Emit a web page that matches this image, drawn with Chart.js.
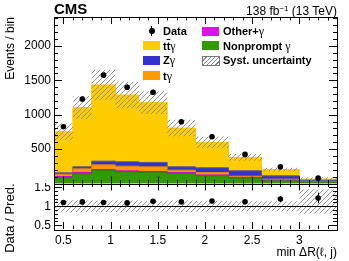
<!DOCTYPE html>
<html lang="en">
<head>
<meta charset="UTF-8">
<title>min ΔR(ℓ, j)</title>
<script src="https://cdn.jsdelivr.net/npm/chart.js"></script>
<style>
    html, body { margin: 0; padding: 0; background: #fff; }
    #wrap { position: relative; width: 349px; height: 261px; overflow: hidden;
            font-family: "Liberation Sans", Arial, sans-serif; color: #000; }
    #mainBox { position: absolute; left: 0; top: 0; width: 349px; height: 184px; }
    #ratioBox { position: absolute; left: 0; top: 183px; width: 349px; height: 78px; }
    .txt { position: absolute; white-space: nowrap; }
    .cms { left: 54px; top: 1px; font-weight: bold; font-size: 15px; line-height: 15px; }
    .lumi { right: 12px; top: 3px; font-size: 12px; line-height: 12px; }
    .lumi sup { font-size: 8px; vertical-align: 4px; }
    .leg { position: absolute; font-weight: bold; font-size: 11px; line-height: 12px; white-space: nowrap; }
    .box { position: absolute; width: 17px; height: 9px; }
    .g { font-family: "Liberation Serif", serif; font-weight: normal; font-size: 12px; }
    .ob { text-decoration: overline; }
</style>
</head>
<body>
<div id="wrap">
    <div id="mainBox"><canvas id="mainChart"></canvas></div>
    <div id="ratioBox"><canvas id="ratioChart"></canvas></div>

    <div class="txt cms">CMS</div>
    <div class="txt lumi">138 fb<sup>−1</sup> (13 TeV)</div>

    <!-- legend, column 1 -->
    <div style="position:absolute;left:151px;top:26px;width:1px;height:10px;background:#000"></div>
    <div style="position:absolute;left:148.5px;top:28px;width:6px;height:6px;border-radius:50%;background:#000"></div>
    <div class="leg" style="left:163px;top:25px">Data</div>
    <div class="box" style="left:143px;top:41px;background:#ffcc00"></div>
    <div class="leg" style="left:163px;top:39.5px">t<span class="ob">t</span><span class="g">γ</span></div>
    <div class="box" style="left:143px;top:55.5px;background:#3333cc"></div>
    <div class="leg" style="left:163px;top:54px">Z<span class="g">γ</span></div>
    <div class="box" style="left:143px;top:71px;background:#ff9900"></div>
    <div class="leg" style="left:163px;top:69.5px">t<span class="g">γ</span></div>
    <!-- legend, column 2 -->
    <div class="box" style="left:202px;top:26.5px;background:#dd11ee"></div>
    <div class="leg" style="left:223px;top:25px">Other+<span class="g">γ</span></div>
    <div class="box" style="left:202px;top:41px;background:#339900"></div>
    <div class="leg" style="left:223px;top:39.5px">Nonprompt <span class="g">γ</span></div>
    <div class="box" style="left:202px;top:55.5px;width:16px;height:8px;border:1px solid #777;
         background:repeating-linear-gradient(135deg,#fff 0 2px,#888 2px 3px)"></div>
    <div class="leg" style="left:223px;top:54px">Syst. uncertainty</div>
</div>

<script>
    // bin edges of min dR(l, j)
    const edges = [0.4, 0.6, 0.8, 1.05, 1.3, 1.6, 1.9, 2.25, 2.6, 3.0, 3.4];
    const binCenters = [0.5, 0.7, 0.925, 1.175, 1.45, 1.75, 2.075, 2.425, 2.8, 3.2];

    // stacked predictions, events / bin
    const nonprompt = [82, 140, 190, 169, 160, 146, 111, 73, 38, 16];
    const otherG    = [20, 20, 14, 15, 15, 14, 14, 14, 10, 4];
    const tGamma    = [34, 53, 67, 68, 67, 34, 35, 19, 15, 6];
    const zGamma    = [19, 29, 54, 63, 64, 48, 68, 78, 48, 22];
    const ttGamma   = [597, 860, 1108, 972, 869, 564, 370, 195, 92, 16];

    // observed data
    const dataVals = [825, 1229, 1575, 1400, 1327, 898, 680, 423, 242, 78];
    const dataErr  = [29, 35, 40, 37, 36, 30, 26, 21, 16, 9];

    // relative syst. uncertainty (up / down)
    const systUp   = [0.16, 0.15, 0.15, 0.15, 0.14, 0.15, 0.14, 0.13, 0.13, 0.44];
    const systDown = [0.16, 0.15, 0.15, 0.15, 0.14, 0.15, 0.14, 0.13, 0.13, 0.19];

    // axis ticks
    const xTicks = [0.5, 1, 1.5, 2, 2.5, 3];
    const mainYTicks = [500, 1000, 1500, 2000];
    const ratioYTicks = [0.5, 1, 1.5];

    const FONT = '"Liberation Sans", Arial, sans-serif';

    const add = (a, b) => a.map((v, i) => v + b[i]);
    const c1 = nonprompt;
    const c2 = add(c1, otherG);
    const c3 = add(c2, tGamma);
    const c4 = add(c3, zGamma);
    const total = add(c4, ttGamma);

    // histogram as stepped line: value i holds from edges[i] to edges[i+1]
    function steps(vals) {
        const pts = vals.map((v, i) => ({ x: edges[i], y: v }));
        pts.push({ x: edges[edges.length - 1], y: vals[vals.length - 1] });
        return pts;
    }

    function hatch(color) {
        const c = document.createElement('canvas');
        c.width = 5; c.height = 5;
        const g = c.getContext('2d');
        g.strokeStyle = color;
        g.lineWidth = 0.9;
        g.beginPath();
        g.moveTo(0, 5); g.lineTo(5, 0);
        g.moveTo(-1, 1); g.lineTo(1, -1);
        g.moveTo(4, 6); g.lineTo(6, 4);
        g.stroke();
        return g.createPattern(c, 'repeat');
    }

    function minors(lo, hi, step) {
        const out = [];
        for (let v = lo; v <= hi + 1e-9; v += step) out.push(+v.toFixed(4));
        return out;
    }

    // frame with inward ROOT-style ticks
    const framePlugin = {
        id: 'frame',
        afterDatasetsDraw(chart, args, o) {
            const { ctx, chartArea: a, scales } = chart;
            ctx.save();
            ctx.strokeStyle = '#000';
            ctx.lineWidth = 1;
            ctx.beginPath();
            const tickX = (vals, len) => vals.forEach(v => {
                const px = Math.round(scales.x.getPixelForValue(v)) + 0.5;
                if (px <= a.left + 1 || px >= a.right - 1) return;
                ctx.moveTo(px, a.bottom); ctx.lineTo(px, a.bottom - len);
                ctx.moveTo(px, a.top); ctx.lineTo(px, a.top + len);
            });
            const tickY = (vals, len) => vals.forEach(v => {
                const py = Math.round(scales.y.getPixelForValue(v)) + 0.5;
                if (py <= a.top + 1 || py >= a.bottom - 1) return;
                ctx.moveTo(a.left, py); ctx.lineTo(a.left + len, py);
                ctx.moveTo(a.right, py); ctx.lineTo(a.right - len, py);
            });
            tickX(o.xMinor, o.xLen / 2);
            tickX(o.xMajor, o.xLen);
            tickY(o.yMinor, o.yLen / 2);
            tickY(o.yMajor, o.yLen);
            ctx.stroke();
            ctx.strokeRect(Math.round(a.left) + 0.5, Math.round(a.top) + 0.5,
                Math.round(a.right - a.left), Math.round(a.bottom - a.top));
            if (o.unitLine) {
                const py = Math.round(scales.y.getPixelForValue(1)) + 0.5;
                ctx.beginPath();
                ctx.moveTo(a.left, py); ctx.lineTo(a.right, py);
                ctx.stroke();
            }
            ctx.restore();
        }
    };

    // vertical error bars on the data points
    const errorPlugin = {
        id: 'errbars',
        afterDatasetsDraw(chart) {
            const { ctx, scales } = chart;
            chart.data.datasets.forEach(ds => {
                if (!ds.errY) return;
                ctx.save();
                ctx.strokeStyle = '#000';
                ctx.lineWidth = 1;
                ctx.beginPath();
                ds.data.forEach((p, i) => {
                    const px = Math.round(scales.x.getPixelForValue(p.x)) + 0.5;
                    ctx.moveTo(px, scales.y.getPixelForValue(p.y - ds.errY[i]));
                    ctx.lineTo(px, scales.y.getPixelForValue(p.y + ds.errY[i]));
                });
                ctx.stroke();
                ctx.restore();
            });
        }
    };

    function layer(vals, fill, line) {
        return {
            data: steps(vals), stepped: 'before', fill: 'origin',
            backgroundColor: fill, borderColor: line, borderWidth: 1,
            pointRadius: 0
        };
    }

    const pattern = hatch('#8a8a8a');

    const yAxisBase = (ticks, title, titleSize) => ({
        grid: { display: false, drawTicks: false },
        border: { display: false },
        afterFit(s) { s.width = 54; s.paddingTop = 0; s.paddingBottom = 0; },
        afterBuildTicks(s) { s.ticks = ticks.map(v => ({ value: v })); },
        ticks: { padding: 3, color: '#000', font: { family: FONT, size: 12 }, callback: v => String(v) },
        title: { display: true, text: title, align: 'end', color: '#000',
                 font: { family: FONT, size: titleSize }, padding: { top: 3, bottom: 0 } }
    });

    new Chart(document.getElementById('mainChart'), {
        type: 'line',
        data: {
            datasets: [
                { type: 'scatter', data: dataVals.map((v, i) => ({ x: binCenters[i], y: v })),
                  errY: dataErr, pointRadius: 2.8, pointBackgroundColor: '#000', pointBorderWidth: 0 },
                { data: steps(total.map((v, i) => v * (1 + systUp[i]))), stepped: 'before', fill: '+1',
                  backgroundColor: pattern, borderWidth: 0, pointRadius: 0 },
                { data: steps(total.map((v, i) => v * (1 - systDown[i]))), stepped: 'before', fill: false,
                  borderWidth: 0, pointRadius: 0 },
                layer(c1, '#339900', '#2b8200'),
                layer(c2, '#dd11ee', '#c010d0'),
                layer(c3, '#ff9900', '#e08600'),
                layer(c4, '#3333cc', '#555599'),
                layer(total, '#ffcc00', '#ffcc00')
            ]
        },
        options: {
            responsive: true, maintainAspectRatio: false, animation: false,
            layout: { autoPadding: false, padding: { top: 17, right: 12, bottom: 0.5, left: 0 } },
            plugins: {
                legend: { display: false }, tooltip: { enabled: false },
                frame: { xMajor: xTicks, xMinor: minors(0.4, 3.4, 0.1), xLen: 7,
                         yMajor: mainYTicks, yMinor: minors(100, 2400, 100), yLen: 8 }
            },
            scales: {
                x: { type: 'linear', min: 0.4, max: 3.4, display: false },
                y: Object.assign({ min: 0, max: 2420 }, yAxisBase(mainYTicks, 'Events / bin', 12))
            }
        },
        plugins: [framePlugin, errorPlugin]
    });

    const ratio = dataVals.map((v, i) => v / total[i]);
    const ratioErr = dataErr.map((e, i) => e / total[i]);

    new Chart(document.getElementById('ratioChart'), {
        type: 'line',
        data: {
            datasets: [
                { type: 'scatter', data: ratio.map((v, i) => ({ x: binCenters[i], y: v })),
                  errY: ratioErr, pointRadius: 2.8, pointBackgroundColor: '#000', pointBorderWidth: 0 },
                { data: steps(systUp.map(u => 1 + u)), stepped: 'before', fill: '+1',
                  backgroundColor: pattern, borderWidth: 0, pointRadius: 0 },
                { data: steps(systDown.map(d => 1 - d)), stepped: 'before', fill: false,
                  borderWidth: 0, pointRadius: 0 }
            ]
        },
        options: {
            responsive: true, maintainAspectRatio: false, animation: false,
            layout: { autoPadding: false, padding: { top: 0.5, right: 12, bottom: 0, left: 0 } },
            plugins: {
                legend: { display: false }, tooltip: { enabled: false },
                frame: { xMajor: xTicks, xMinor: minors(0.4, 3.4, 0.1), xLen: 7,
                         yMajor: ratioYTicks, yMinor: minors(0.4, 1.6, 0.1), yLen: 8, unitLine: true }
            },
            scales: {
                x: {
                    type: 'linear', min: 0.4, max: 3.4,
                    grid: { display: false, drawTicks: false },
                    border: { display: false },
                    afterFit(s) { s.height = 32; s.paddingLeft = 0; s.paddingRight = 0; },
                    afterBuildTicks(s) { s.ticks = xTicks.map(v => ({ value: v })); },
                    ticks: { padding: 4, maxRotation: 0, autoSkip: false, color: '#000',
                             font: { family: FONT, size: 12 }, callback: v => String(v) },
                    title: { display: true, text: 'min ΔR(ℓ, j)', align: 'end', color: '#000',
                             font: { family: FONT, size: 12 }, padding: { top: 0, bottom: 1 } }
                },
                y: Object.assign({ min: 0.4, max: 1.6 }, yAxisBase(ratioYTicks, 'Data / Pred.', 13))
            }
        },
        plugins: [framePlugin, errorPlugin]
    });
</script>
</body>
</html>
